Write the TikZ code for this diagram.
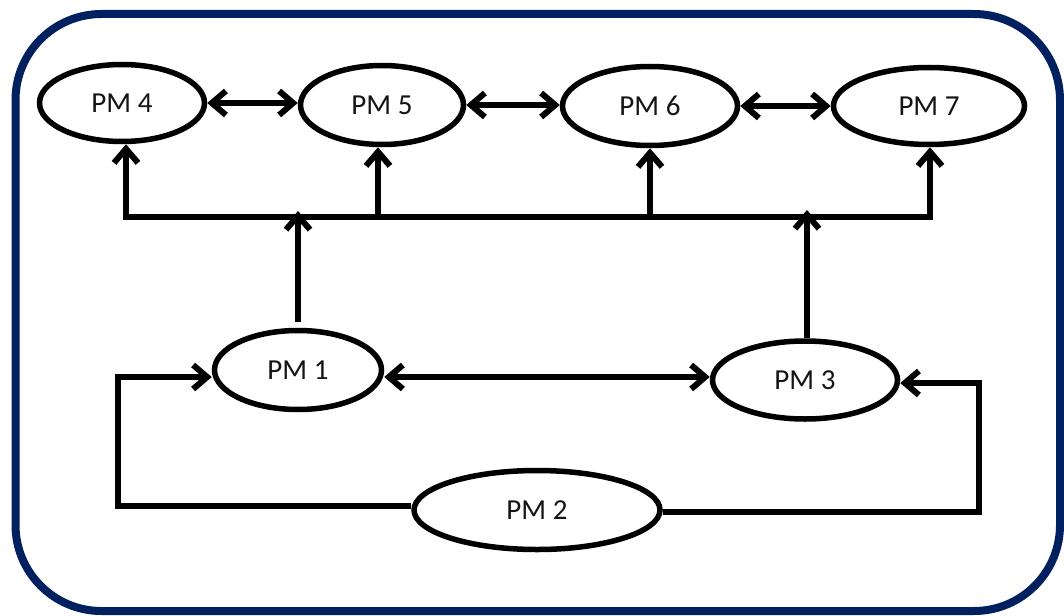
\documentclass[tikz,border=0pt]{standalone}
\usepackage{fontspec}
\setmainfont{Carlito}
\usetikzlibrary{shapes.geometric,arrows.meta}
\definecolor{frameblue}{RGB}{0,32,96}
\definecolor{textgray}{RGB}{20,20,20}
\tikzset{
  pm/.style={ellipse, draw=black, line width=5.5pt, fill=white, inner sep=0pt,
    text=textgray, font=\fontsize{29}{34}\selectfont},
  conn/.style={draw=black, line width=6pt, line join=miter},
  >={Straight Barb[length=14pt,width=24pt]}
}
\begin{document}
\begin{tikzpicture}[x=1pt,y=-1pt]
\useasboundingbox (0,0) rectangle (1064,615);
\fill[white] (0,0) rectangle (1064,615);
% outer frame
\draw[frameblue, line width=8pt, rounded corners=86pt] (15.5,14) rectangle (1060,611);

% machines
\node[pm, minimum width=165pt, minimum height=77pt] (p4) at (122,103) {PM 4};
\node[pm, minimum width=163pt, minimum height=79pt] (p5) at (382,105) {PM 5};
\node[pm, minimum width=175pt, minimum height=79pt] (p6) at (650,106) {PM 6};
\node[pm, minimum width=191pt, minimum height=77pt] (p7) at (929,106) {PM 7};
\node[pm, minimum width=167pt, minimum height=79pt] (p1) at (298,370) {PM 1};
\node[pm, minimum width=185pt, minimum height=78pt] (p3) at (805,380) {PM 3};
\node[pm, minimum width=246pt, minimum height=79pt] (p2) at (537,510) {PM 2};

% bus points
\coordinate (b4) at (126,217);
\coordinate (b5) at (378,217);
\coordinate (b6) at (650,217);
\coordinate (b7) at (930,217);
\coordinate (t1) at (298,211);
\coordinate (t3) at (807,210);

% links along the top row
\draw[conn,<->] (p4.east) -- (p4.east -| p5.west);
\draw[conn,<->] (p5.east) -- (p5.east -| p6.west);
\draw[conn,<->] (p6.east) -- (p6.east -| p7.west);

% bus feeding the top row
\draw[conn,<->] (b4 |- p4.south) -- (b4) -- (b7) -- (b7 |- p7.south);
\draw[conn,->] (b5) -- (b5 |- p5.south);
\draw[conn,->] (b6) -- (b6 |- p6.south);

% PM 1 and PM 3 up to the bus
\draw[conn,->] ([yshift=6pt]p1.north) -- (t1);
\draw[conn,->] (p3.north -| t3) -- (t3);

% PM 1 <-> PM 3
\draw[conn,<->] (p1.east |- 0,377) -- (p3.west |- 0,377);

% PM 2 feedback loops
\coordinate (l1) at (118,506);
\coordinate (l2) at (118,377);
\coordinate (r1) at (979,512);
\coordinate (r2) at (979,383);
\draw[conn,->] (p2.west |- l1) -- (l1) -- (l2) -- (p1.west |- l2);
\draw[conn,->] (p2.east |- r1) -- (r1) -- (r2) -- (p3.east |- r2);
\end{tikzpicture}
\end{document}
